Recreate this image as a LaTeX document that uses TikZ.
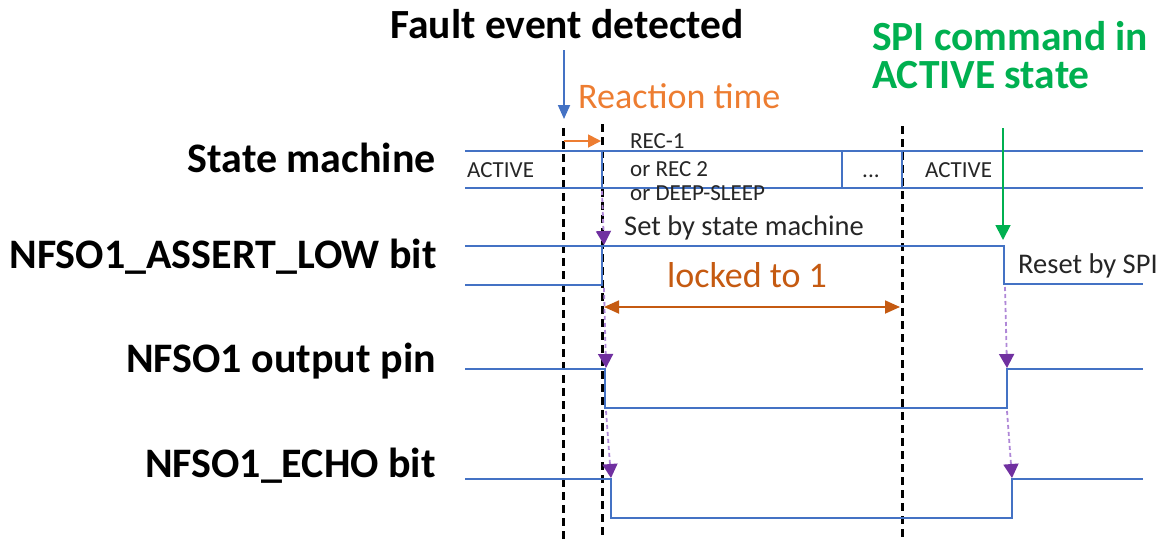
\documentclass[tikz,border=0pt]{standalone}
\usepackage{fontspec}
\setmainfont{Carlito}
\usetikzlibrary{arrows.meta}
\definecolor{sigblue}{RGB}{68,114,196}
\definecolor{reactorange}{RGB}{237,125,49}
\definecolor{lockorange}{RGB}{197,90,17}
\definecolor{spigreen}{RGB}{0,176,80}
\definecolor{purphead}{RGB}{112,48,160}
\definecolor{purpline}{RGB}{175,135,215}
\definecolor{txtgray}{RGB}{38,38,38}
\begin{document}
\begin{tikzpicture}[x=1pt,y=-1pt,
  sig/.style={draw=sigblue,line width=2.6pt},
  guide/.style={draw=black,line width=3pt,dash pattern=on 8pt off 5pt},
  rowlabel/.style={anchor=base east,inner sep=0pt,font=\fontsize{42}{44}\selectfont\bfseries},
  small/.style={anchor=base west,inner sep=0pt,text=txtgray,font=\fontsize{23}{26}\selectfont},
  medium/.style={anchor=base west,inner sep=0pt,text=txtgray,font=\fontsize{28.5}{30}\selectfont},
  causal/.style={draw=purpline,line width=1.8pt,dash pattern=on 4pt off 3pt,
    -{Triangle[length=14pt,width=15pt,color=purphead]}},
]
\useasboundingbox (0,0) rectangle (1172,539);

% titles
\node[anchor=base,inner sep=0pt,font=\fontsize{41.5}{44}\selectfont\bfseries] (fault) at (567,38) {Fault event detected};
\node[anchor=base west,inner sep=0pt,text=reactorange,font=\fontsize{36}{38}\selectfont] (react) at (578,108) {Reaction time};
\node[anchor=base west,inner sep=0pt,text=spigreen,align=left,font=\fontsize{41.5}{38}\selectfont\bfseries] (spi) at (872,88) {SPI command in\\ACTIVE state};

% row labels
\node[rowlabel] (lsm) at (436,172) {State machine};
\node[rowlabel] (lal) at (437,268) {NFSO1\_ASSERT\_LOW bit};
\node[rowlabel] (lop) at (436,372) {NFSO1 output pin};
\node[rowlabel] (lec) at (436,477) {NFSO1\_ECHO bit};

% guide lines
\coordinate (g1t) at (563,128); \coordinate (g1b) at (563,539);
\coordinate (g2t) at (602,124); \coordinate (g2b) at (602,539);
\coordinate (g3t) at (902,126); \coordinate (g3b) at (902,539);
\draw[guide] (g1t) -- (g1b);
\draw[guide] (g2t) -- (g2b);
\draw[guide] (g3t) -- (g3b);

% fault arrow
\coordinate (fa1) at (564,50); \coordinate (fa2) at (564,119);
\draw[draw=sigblue,line width=1.8pt,-{Triangle[length=14pt,width=12pt]}] (fa1) -- (fa2);

% reaction arrow
\coordinate (ra1) at (564,141); \coordinate (ra2) at (601,141);
\draw[draw=reactorange,line width=1.8pt,-{Triangle[length=13pt,width=13pt]}] (ra1) -- (ra2);

% state machine bus
\draw[sig] (465,151) -- (1143,151);
\draw[sig] (465,188) -- (1143,188);
\draw[sig] (602,151) -- (602,188);
\draw[sig] (842,151) -- (842,188);
\draw[sig] (902,151) -- (902,188);
\node[small] (sa1) at (467,177) {ACTIVE};
\node[small] (sr1) at (630,148) {REC-1};
\node[small] (sr2) at (630,176) {or REC 2};
\node[small] (sr3) at (630,200) {or DEEP-SLEEP};
\node[small] (sdot) at (862,177) {...};
\node[small] (sa2) at (925,177) {ACTIVE};

% ASSERT_LOW
\draw[sig] (465,246) -- (1004,246) -- (1004,284) -- (1143,284);
\draw[sig] (465,285) -- (602,285) -- (602,246);
\node[medium] (setby) at (624,235) {Set by state machine};
\node[medium] (resetby) at (1018,273) {Reset by SPI};
\node[anchor=base west,inner sep=0pt,text=lockorange,font=\fontsize{36}{38}\selectfont] (locked) at (667,287) {locked to 1};
\coordinate (lk1) at (604,307); \coordinate (lk2) at (900,307);
\draw[draw=lockorange,line width=1.8pt,{Triangle[length=15pt,width=13pt]}-{Triangle[length=15pt,width=13pt]}] (lk1) -- (lk2);

% output pin
\draw[sig] (465,369) -- (605,369) -- (605,408) -- (1007,408) -- (1007,369) -- (1143,369);

% echo bit
\draw[sig] (465,479) -- (611,479) -- (611,518) -- (1012,518) -- (1012,479) -- (1143,479);

% green SPI arrow
\coordinate (ga1) at (1003,128); \coordinate (ga2) at (1003,240);
\draw[draw=spigreen,line width=1.8pt,-{Triangle[length=15pt,width=15pt]}] (ga1) -- (ga2);

% causal arrows
\coordinate (c1a) at (602,191); \coordinate (c1b) at (604,245);
\coordinate (c2a) at (604,288); \coordinate (c2b) at (606,368);
\coordinate (c3a) at (606,411); \coordinate (c3b) at (611,478);
\coordinate (c4a) at (1005,287); \coordinate (c4b) at (1007,368);
\coordinate (c5a) at (1007,411); \coordinate (c5b) at (1012,478);
\draw[causal] (c1a) -- (c1b);
\draw[causal] (c2a) -- (c2b);
\draw[causal] (c3a) -- (c3b);
\draw[causal] (c4a) -- (c4b);
\draw[causal] (c5a) -- (c5b);
\end{tikzpicture}
\end{document}
